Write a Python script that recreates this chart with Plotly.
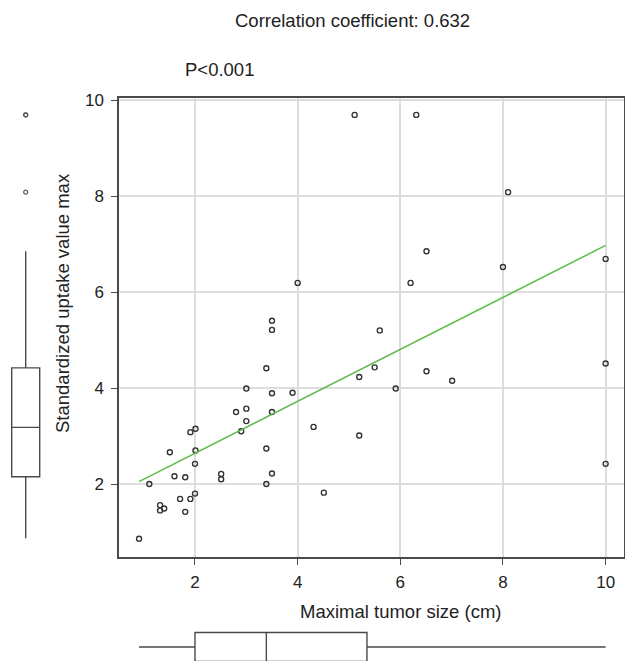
import plotly.graph_objects as go

W, H = 625, 661

# ---- data ----
tumor_size = [3.50, 3.50, 3.39, 5.20, 3.00, 3.50, 3.90, 2.80, 3.00, 3.50,
              3.00, 2.90, 4.31, 5.20, 1.91, 2.01, 2.01, 1.51, 3.39, 2.00,
              1.60, 1.81, 2.51, 2.51, 3.50, 3.39, 1.11, 4.51, 2.00, 1.71,
              1.91, 1.32, 1.32, 1.40, 1.81, 0.91, 5.60, 5.50, 6.51, 7.01,
              5.91, 10.0, 10.0, 6.31, 8.10, 6.51, 6.20, 8.00, 10.0, 5.11,
              4.00]
suv_max = [5.40, 5.21, 4.41, 4.23, 3.99, 3.89, 3.90, 3.50, 3.57, 3.50,
           3.31, 3.10, 3.19, 3.01, 3.08, 3.15, 2.70, 2.66, 2.74, 2.42,
           2.16, 2.14, 2.21, 2.10, 2.22, 2.00, 2.00, 1.82, 1.80, 1.69,
           1.69, 1.56, 1.45, 1.49, 1.42, 0.86, 5.20, 4.43, 4.35, 4.15,
           3.99, 4.51, 2.42, 9.69, 8.08, 6.85, 6.19, 6.52, 6.69, 9.69,
           6.19]

trend_x = [0.91, 10.0]
trend_y = [2.05, 6.97]

# box statistics: [lower whisker, q1, median, q3, upper whisker]
suv_box = [0.87, 2.15, 3.18, 4.42, 6.85]
suv_outliers = [8.08, 9.69, 9.69]
size_box = [0.91, 2.00, 3.39, 5.35, 10.0]

x_ticks = [2, 4, 6, 8, 10]
y_ticks = [2, 4, 6, 8, 10]

FONT = "Liberation Sans, Arial, sans-serif"
TXT = "#222222"
AX = "#4a4a4a"
GRID = "#dddddd"
TICK_SIZE = 17
TEXT_SIZE = 18.5


def px_x(p):
    return p / W


def px_y(p):
    return 1 - p / H


x_lo = (119 - 92.33) / 51.33
x_hi = (624 - 92.33) / 51.33
y_lo = (580 - 557) / 48
y_hi = (580 - 98) / 48

fig = go.Figure()

# scatter
fig.add_trace(go.Scatter(
    x=tumor_size, y=suv_max, mode="markers",
    marker=dict(symbol="circle-open", size=5, color="#333333",
                line=dict(width=1.4, color="#333333")),
    xaxis="x", yaxis="y", showlegend=False, cliponaxis=False))

# trend line
fig.add_trace(go.Scatter(
    x=trend_x, y=trend_y, mode="lines",
    line=dict(color="#5dbb4c", width=1.5),
    xaxis="x", yaxis="y", showlegend=False))

# left vertical box (SUV)
fig.add_trace(go.Box(
    x=[25.7], lowerfence=[suv_box[0]], q1=[suv_box[1]], median=[suv_box[2]],
    q3=[suv_box[3]], upperfence=[suv_box[4]], width=28,
    fillcolor="white", line=dict(color=AX, width=1.4), whiskerwidth=0,
    boxpoints=False, xaxis="x2", yaxis="y2", showlegend=False,
    orientation="v"))
fig.add_trace(go.Scatter(
    x=[25.7] * len(suv_outliers), y=suv_outliers, mode="markers",
    marker=dict(symbol="circle-open", size=4, color="#555555",
                line=dict(width=1.2, color="#555555")),
    xaxis="x2", yaxis="y2", showlegend=False, cliponaxis=False))

# bottom horizontal box (tumor size)
fig.add_trace(go.Box(
    y=[0], lowerfence=[size_box[0]], q1=[size_box[1]], median=[size_box[2]],
    q3=[size_box[3]], upperfence=[size_box[4]], width=29,
    fillcolor="white", line=dict(color=AX, width=1.4), whiskerwidth=0,
    boxpoints=False, xaxis="x3", yaxis="y3", showlegend=False,
    orientation="h"))

fig.update_layout(
    width=W, height=H,
    margin=dict(l=0, r=0, t=0, b=0),
    paper_bgcolor="white", plot_bgcolor="white",
    font=dict(family=FONT, size=TICK_SIZE, color=TXT),
    xaxis=dict(domain=[px_x(119), px_x(624)], range=[x_lo, x_hi],
               tickvals=x_ticks, ticks="outside", ticklen=6, tickwidth=1.3,
               tickcolor=AX, showline=True, linecolor=AX, linewidth=1.5,
               mirror=True, showgrid=True, gridcolor=GRID, gridwidth=1.5,
               zeroline=False, anchor="y", automargin=False,
               ticklabelstandoff=3,
               tickfont=dict(size=TICK_SIZE, color=TXT)),
    yaxis=dict(domain=[px_y(557), px_y(98)], range=[y_lo, y_hi],
               tickvals=y_ticks, ticks="outside", ticklen=6, tickwidth=1.3,
               tickcolor=AX, showline=True, linecolor=AX, linewidth=1.5,
               mirror=True, showgrid=True, gridcolor=GRID, gridwidth=1.5,
               zeroline=False, anchor="x", automargin=False,
               ticklabelstandoff=4,
               tickfont=dict(size=TICK_SIZE, color=TXT)),
    xaxis2=dict(domain=[0, px_x(60)], range=[0, 60], visible=False,
                anchor="y2", fixedrange=True),
    yaxis2=dict(domain=[px_y(557), px_y(98)], range=[y_lo, y_hi],
                visible=False, anchor="x2", fixedrange=True),
    xaxis3=dict(domain=[px_x(119), px_x(624)], range=[x_lo, x_hi],
                visible=False, anchor="y3", fixedrange=True),
    yaxis3=dict(domain=[0, (661 - 603) / H], range=[-14, 44], visible=False,
                anchor="x3", fixedrange=True),
    annotations=[
        dict(text="Correlation coefficient: 0.632", x=px_x(352), y=px_y(21),
             xref="paper", yref="paper", showarrow=False,
             xanchor="center", yanchor="middle",
             font=dict(size=TEXT_SIZE, color=TXT)),
        dict(text="P<0.001", x=px_x(183), y=px_y(69),
             xref="paper", yref="paper", showarrow=False,
             xanchor="left", yanchor="middle",
             font=dict(size=TEXT_SIZE, color=TXT)),
        dict(text="Maximal tumor size (cm)", x=px_x(400), y=px_y(611),
             xref="paper", yref="paper", showarrow=False,
             xanchor="center", yanchor="middle",
             font=dict(size=TEXT_SIZE, color=TXT)),
        dict(text="Standardized uptake value max", x=px_x(62), y=px_y(303),
             xref="paper", yref="paper", showarrow=False, textangle=-90,
             xanchor="center", yanchor="middle",
             font=dict(size=TEXT_SIZE, color=TXT)),
    ],
)

fig.write_html("out.html")
